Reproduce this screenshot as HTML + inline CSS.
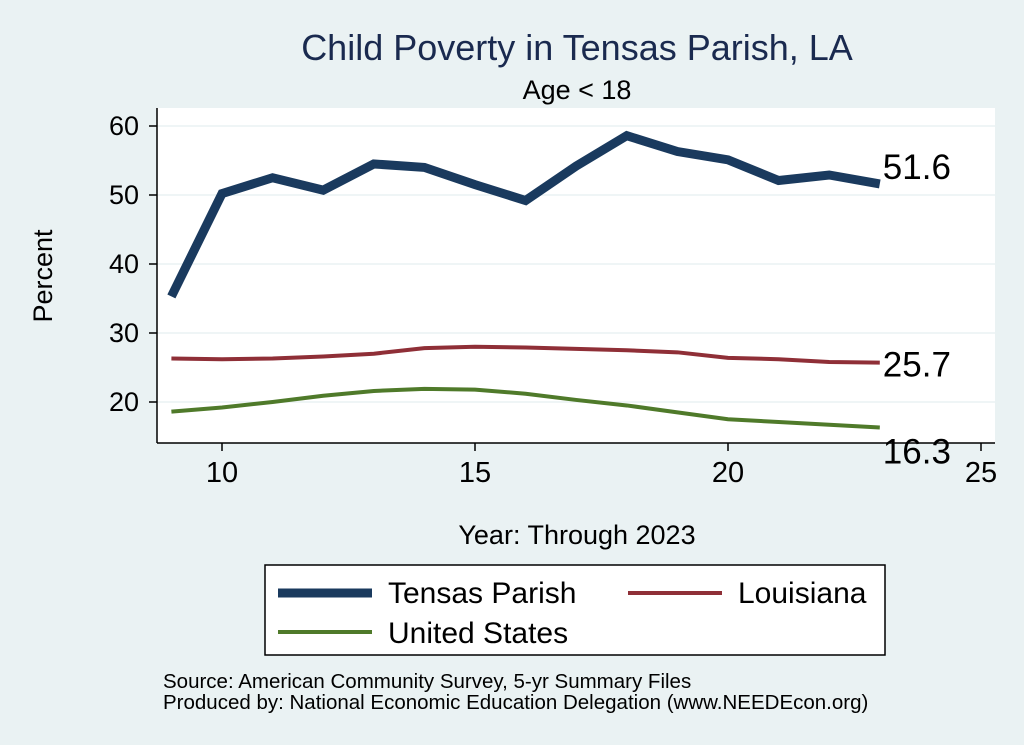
<!DOCTYPE html>
<html><head><meta charset="utf-8"><style>
body{margin:0;background:#eaf2f3;font-family:"Liberation Sans",Arial,sans-serif}
svg{display:block}
</style></head><body>
<svg id="chart" width="1024" height="745" viewBox="0 0 1024 745">
<rect width="1024" height="745" fill="#eaf2f3"/>
<text x="577" y="60" text-anchor="middle" font-size="36" fill="#1a2a4f">Child Poverty in Tensas Parish, LA</text>
<text x="577" y="99" text-anchor="middle" font-size="27" fill="#000">Age &lt; 18</text>
<rect x="157" y="108" width="838" height="335" fill="#fff"/>
<g id="grid"></g>
<g id="axes"></g>
<g id="series"></g>
<text x="52" y="276" text-anchor="middle" font-size="27" transform="rotate(-90 52 276)">Percent</text>
<text x="577" y="544" text-anchor="middle" font-size="27">Year: Through 2023</text>
<g>
<rect x="265" y="565" width="620" height="90" fill="#fff" stroke="#000" stroke-width="1.5"/>
<line x1="278" y1="593" x2="372" y2="593" stroke="#1a3a5e" stroke-width="9"/>
<text x="388" y="603" font-size="30">Tensas Parish</text>
<line x1="628" y1="593" x2="722" y2="593" stroke="#8f2f37" stroke-width="4"/>
<text x="738" y="603" font-size="30">Louisiana</text>
<line x1="278" y1="632" x2="372" y2="632" stroke="#4f7a2a" stroke-width="4"/>
<text x="388" y="643" font-size="30">United States</text>
</g>
<text x="163" y="688" font-size="20.5">Source: American Community Survey, 5-yr Summary Files</text>
<text x="163" y="709" font-size="20.5">Produced by: National Economic Education Delegation (www.NEEDEcon.org)</text>
</svg>
<script>
const years=[9,10,11,12,13,14,15,16,17,18,19,20,21,22,23];
const tensas=[35.3,50.2,52.5,50.7,54.5,54.0,51.5,49.2,54.2,58.6,56.3,55.1,52.1,52.9,51.6];
const louisiana=[26.3,26.2,26.3,26.6,27.0,27.8,28.0,27.9,27.7,27.5,27.2,26.4,26.2,25.8,25.7];
const unitedStates=[18.6,19.2,20.0,20.9,21.6,21.9,21.8,21.2,20.3,19.5,18.5,17.5,17.1,16.7,16.3];
const yTicks=[20,30,40,50,60];
const xTicks=[10,15,20,25];
const NS="http://www.w3.org/2000/svg";
const xs=v=>222+(v-10)*50.6;
const ys=v=>402-(v-20)*6.9;
function mk(tag,attrs,parent){const e=document.createElementNS(NS,tag);for(const k in attrs)e.setAttribute(k,attrs[k]);document.getElementById(parent).appendChild(e);return e;}
yTicks.forEach(t=>{
 const g=mk('line',{x1:157,x2:995,y1:ys(t),y2:ys(t),stroke:'#eaf2f3','stroke-width':1.5},'grid');
 
 
 const tk=mk('line',{x1:149,x2:157,y1:ys(t),y2:ys(t),stroke:'#000','stroke-width':1.5},'axes');
 
 
 const tx=mk('text',{x:139,y:ys(t)+9,'text-anchor':'end','font-size':27},'axes');
 tx.textContent=t;
 
 
});
xTicks.forEach(t=>{
 const tk=mk('line',{x1:xs(t),x2:xs(t),y1:443,y2:451,stroke:'#000','stroke-width':1.5},'axes');
 
 
 const tx=mk('text',{x:xs(t),y:482,'text-anchor':'middle','font-size':29},'axes');
 tx.textContent=t;
 
 
});
const ya=mk('line',{x1:157,x2:157,y1:108,y2:443,stroke:'#000','stroke-width':1.5},'axes');


const xa=mk('line',{x1:157,x2:995,y1:443,y2:443,stroke:'#000','stroke-width':1.5},'axes');


function series(vals,color,w,name,dy){
 const p=mk('polyline',{points:vals.map((v,i)=>xs(years[i])+','+ys(v)).join(' '),fill:'none',stroke:color,'stroke-width':w,'stroke-linejoin':'miter'},'series');
 
 
 const last=vals[vals.length-1];
 const t=mk('text',{x:xs(years[years.length-1])+3,y:ys(last)+dy,'font-size':35},'series');
 t.textContent=last.toFixed(1);
 
 
}
series(tensas,'#1a3a5e',9,'tensas',-5);
series(louisiana,'#8f2f37',4,'louisiana',14);
series(unitedStates,'#4f7a2a',4,'united-states',36);
</script>
</body></html>
